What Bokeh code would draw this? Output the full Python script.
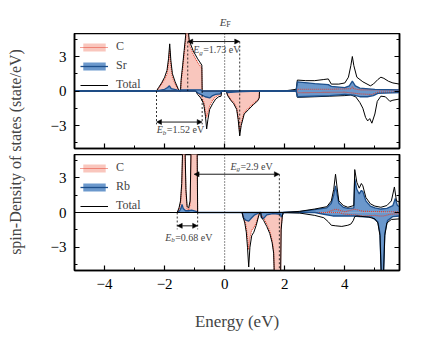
from bokeh.plotting import figure
from bokeh.layouts import row, column
from bokeh.models import (Range1d, FixedTicker, LinearAxis, Span, Label, Arrow,
                          NormalHead, Legend, LegendItem, CustomJSTickFormatter)
from bokeh.embed import file_html
from bokeh.resources import INLINE

FONT = "Liberation Serif"

# ---------------- tick definitions ----------------
x_ticks = [-4, -2, 0, 2, 4]
x_tick_labels = ["\u22124", "\u22122", "0", "2", "4"]
x_minor = [-5, -3, -1, 1, 3, 5]
y_ticks = [-3, 0, 3]
y_tick_labels = ["\u22123", "0", "3"]
y_minor = [-4.5, -1.5, 1.5, 4.5]
X_MIN, X_MAX = -5, 5.82

# ---------------- top panel (C / Sr) : (energy, DOS) ----------------
top_total_up = [(-5, 0), (-2.27, 0), (-2.2, 0.3), (-2.1, 0.7), (-2.0, 1.2), (-1.92, 1.8), (-1.87, 2.8),
                (-1.83, 4.1), (-1.79, 2.6), (-1.74, 1.5), (-1.65, 0.8), (-1.55, 0.2), (-1.5, 0), (-1.47, 0),
                (-1.45, 1.0), (-1.4, 2.2), (-1.35, 3.5), (-1.3, 4.8), (-1.27, 6.5), (-1.22, 5.5), (-1.18, 4.4),
                (-1.05, 3.5), (-0.9, 2.8), (-0.76, 2.25), (-0.75, 0), (1.95, 0), (2.2, 0.08), (2.38, 0.15),
                (2.42, 0.95), (2.7, 0.9), (3.0, 0.9), (3.3, 1.0), (3.45, 1.05), (3.55, 0.6), (3.8, 0.6),
                (4.0, 0.7), (4.12, 1.2), (4.2, 2.2), (4.25, 3.0), (4.3, 2.2), (4.4, 1.2), (4.6, 0.8),
                (4.85, 0.45), (4.95, 0.6), (5.1, 1.0), (5.2, 1.2), (5.3, 1.1), (5.45, 0.85), (5.6, 0.7),
                (5.82, 0.6)]
top_c_up = [(-5, 0), (-2.27, 0), (-2.2, 0.25), (-2.1, 0.6), (-2.0, 1.0), (-1.92, 1.5), (-1.87, 2.4),
            (-1.83, 3.6), (-1.79, 2.2), (-1.74, 1.2), (-1.65, 0.6), (-1.55, 0.15), (-1.5, 0), (-1.47, 0),
            (-1.45, 0.8), (-1.4, 1.9), (-1.35, 3.2), (-1.3, 4.4), (-1.27, 6.0), (-1.22, 5.1), (-1.18, 4.1),
            (-1.05, 3.2), (-0.9, 2.5), (-0.76, 2.0), (-0.75, 0), (2.4, 0), (2.42, 0.15), (3.5, 0.15),
            (4.2, 0.2), (4.25, 0.35), (4.3, 0.2), (4.5, 0.1), (5.82, 0.1)]
top_sr_up = [(-5, 0), (-2.27, 0), (-2.0, 0.15), (-1.9, 0.3), (-1.84, 0.45), (-1.78, 0.2), (-1.6, 0.1),
             (-1.5, 0), (-1.45, 0.1), (-0.8, 0.1), (-0.75, 0), (2.38, 0), (2.42, 0.8), (3.0, 0.65),
             (3.45, 0.55), (3.55, 0.4), (4.0, 0.3), (4.15, 0.45), (4.25, 0.85), (4.35, 0.45), (4.5, 0.25),
             (5.0, 0.15), (5.82, 0.1)]
top_total_dn = [(-5, 0), (-0.97, 0), (-0.9, -0.3), (-0.8, -0.6), (-0.7, -1.1), (-0.64, -2.2), (-0.6, -3.3),
                (-0.56, -2.5), (-0.5, -1.6), (-0.4, -1.1), (-0.3, -0.7), (-0.2, -0.5), (-0.12, -0.45),
                (-0.1, 0), (0.05, 0), (0.1, -0.4), (0.2, -0.8), (0.3, -1.1), (0.4, -1.6), (0.45, -2.5),
                (0.5, -3.9), (0.55, -3.0), (0.65, -2.0), (0.8, -1.6), (0.95, -1.2), (1.1, -0.85),
                (1.15, -0.6), (1.16, 0), (2.38, 0), (2.42, -0.55), (3.0, -0.5), (3.5, -0.45), (4.0, -0.4),
                (4.2, -0.35), (4.36, -0.5), (4.5, -1.0), (4.6, -1.5), (4.69, -2.3), (4.76, -2.6),
                (4.83, -2.4), (4.9, -2.8), (5.0, -2.0), (5.08, -0.9), (5.2, -0.45), (5.35, -0.5),
                (5.5, -0.9), (5.6, -0.8), (5.82, -0.7)]
top_c_dn = [(-5, 0), (-0.97, 0), (-0.9, -0.2), (-0.8, -0.4), (-0.7, -0.9), (-0.64, -1.8), (-0.6, -2.3),
            (-0.56, -1.9), (-0.5, -1.3), (-0.4, -0.8), (-0.3, -0.5), (-0.2, -0.35), (-0.12, -0.3),
            (-0.1, 0), (0.05, 0), (0.1, -0.35), (0.2, -0.7), (0.3, -1.0), (0.4, -1.5), (0.45, -2.3),
            (0.5, -3.6), (0.55, -2.8), (0.65, -1.85), (0.8, -1.5), (0.95, -1.1), (1.1, -0.8),
            (1.15, -0.55), (1.16, 0), (2.4, 0), (2.42, -0.15), (4.0, -0.1), (4.5, -0.25), (4.9, -0.3),
            (5.1, -0.1), (5.82, -0.1)]
top_sr_dn = [(-5, 0), (-0.97, 0), (-0.9, -0.15), (-0.8, -0.3), (-0.65, -0.5), (-0.5, -0.6), (-0.4, -0.4),
             (-0.3, -0.3), (-0.15, -0.25), (-0.1, 0), (0.05, 0), (0.1, -0.15), (0.3, -0.1), (0.6, -0.05),
             (1.16, 0), (2.38, 0), (2.42, -0.5), (3.5, -0.4), (4.0, -0.3), (4.3, -0.35), (4.5, -0.5),
             (4.75, -0.5), (4.95, -0.4), (5.1, -0.2), (5.82, -0.15)]

# ---------------- bottom panel (C / Rb) ----------------
bot_total_up = [(-5, 0), (-1.58, 0), (-1.52, 0.4), (-1.47, 1.0), (-1.43, 2.5), (-1.4, 5.5), (-1.36, 8.0),
                (-1.32, 5.5), (-1.29, 2.0), (-1.25, 0.5), (-1.2, 0.4), (-1.15, 1.0), (-1.12, 5.5),
                (-1.08, 8.0), (-1.0, 7.0), (-0.92, 6.5), (-0.9, 0), (1.95, 0), (2.5, 0.1), (3.0, 0.3),
                (3.4, 0.5), (3.55, 1.0), (3.63, 2.0), (3.69, 3.3), (3.74, 2.2), (3.8, 1.0), (3.95, 0.6),
                (4.1, 0.45), (4.3, 0.6), (4.33, 3.7), (4.4, 2.6), (4.48, 2.1), (4.55, 2.5), (4.6, 2.3),
                (4.7, 1.3), (4.85, 0.75), (5.0, 0.55), (5.2, 0.45), (5.4, 0.6), (5.55, 1.0), (5.65, 2.2),
                (5.72, 1.0), (5.82, 0.9)]
bot_rb_up = [(-1.58, 0), (-1.5, 0.15), (-1.45, 0.4), (-1.42, 0.7), (-1.38, 0.35), (-1.3, 0.15), (-1.2, 0.15),
             (-1.1, 0.2), (-0.95, 0.1), (-0.9, 0), (1.95, 0), (2.5, 0.08), (3.0, 0.25), (3.4, 0.4),
             (3.55, 0.8), (3.63, 1.5), (3.69, 2.3), (3.74, 1.6), (3.8, 0.8), (3.95, 0.45), (4.1, 0.35),
             (4.3, 0.4), (4.33, 2.9), (4.4, 2.0), (4.48, 1.6), (4.55, 1.9), (4.6, 1.8), (4.7, 1.0),
             (4.85, 0.55), (5.0, 0.4), (5.2, 0.3), (5.4, 0.35), (5.6, 0.6), (5.68, 1.2), (5.75, 0.6),
             (5.82, 0.5)]
bot_c_up = [(-1.58, 0), (-1.52, 0.3), (-1.47, 0.8), (-1.43, 2.2), (-1.4, 5.2), (-1.36, 7.5), (-1.32, 5.2),
            (-1.29, 1.7), (-1.25, 0.3), (-1.2, 0.2), (-1.15, 0.7), (-1.12, 5.2), (-1.08, 7.8), (-1.0, 6.8),
            (-0.92, 6.3), (-0.9, 0), (3.4, 0), (3.69, 0.3), (4.0, 0.05), (4.33, 0.3), (4.6, 0.1),
            (5.82, 0.05)]
bot_total_dn = [(-5, 0), (0.58, 0), (0.62, -0.45), (0.67, -0.9), (0.72, -1.7), (0.76, -3.0), (0.8, -4.7),
                (0.84, -3.0), (0.9, -2.0), (0.97, -1.7), (1.05, -1.1), (1.13, -0.3), (1.17, 0), (1.2, 0),
                (1.22, -0.4), (1.3, -0.7), (1.4, -1.2), (1.5, -1.8), (1.58, -2.6), (1.63, -3.5),
                (1.66, -6.0), (1.86, -6.0), (1.88, -1.5), (1.92, -0.3), (1.95, 0), (2.5, -0.05),
                (3.0, -0.25), (3.3, -0.45), (3.45, -0.8), (3.55, -1.1), (3.7, -1.15), (3.9, -1.2),
                (4.1, -1.1), (4.2, -1.0), (4.28, -0.7), (4.33, -0.35), (4.4, -0.3), (4.8, -0.4),
                (5.0, -0.55), (5.1, -0.9), (5.17, -2.0), (5.22, -6.0), (5.28, -6.0), (5.33, -2.0),
                (5.4, -0.9), (5.55, -0.6), (5.82, -0.55)]
bot_rb_dn = [(0.58, 0), (0.62, -0.45), (0.7, -0.65), (0.8, -0.75), (0.9, -0.45), (1.0, -0.2), (1.17, 0),
             (1.2, 0), (1.22, -0.45), (1.3, -0.5), (1.4, -0.2), (1.6, -0.1), (1.86, -0.15), (1.88, -0.4),
             (1.92, -0.25), (1.95, 0), (3.0, 0), (3.3, -0.15), (3.6, -0.3), (4.0, -0.3), (4.3, -0.3),
             (4.5, -0.35), (4.9, -0.4), (5.1, -0.8), (5.17, -1.8), (5.22, -6.0), (5.28, -6.0),
             (5.33, -1.8), (5.42, -0.7), (5.6, -0.35), (5.82, -0.3)]
bot_c_dn = [(0.58, 0), (0.62, -0.3), (0.67, -0.7), (0.72, -1.3), (0.76, -2.2), (0.8, -3.2), (0.84, -2.2),
            (0.9, -1.5), (0.97, -1.3), (1.05, -0.9), (1.13, -0.25), (1.17, 0), (1.2, 0), (1.22, -0.25),
            (1.3, -0.5), (1.4, -1.0), (1.5, -1.6), (1.58, -2.4), (1.63, -3.3), (1.66, -6.0), (1.86, -6.0),
            (1.88, -1.3), (1.92, -0.2), (1.95, 0), (3.8, 0), (4.0, -0.15), (4.35, -0.2), (4.6, -0.3),
            (5.0, -0.25), (5.15, -0.3), (5.3, -0.3), (5.5, -0.15), (5.82, -0.1)]

# ---------------- gap annotations ----------------
top_gaps = [(-1.23, 0.50, 4.3, "g", "=1.73 eV", -1.05, 3.6),
            (-2.27, -0.75, -2.7, "b", "=1.52 eV", -2.26, -3.35)]
bot_gaps = [(-1.02, 1.82, 3.3, "g", "=2.9 eV", 0.19, 4.0),
            (-1.58, -0.90, -1.15, "b", "=0.68 eV", -1.98, -2.15)]
top_guides = [(-1.23, 4.3, 0), (0.50, 4.3, -3.9), (-2.27, 0, -2.9), (-0.75, 0, -2.9)]
bot_guides = [(-1.58, 0, -1.45), (-0.90, 0, -1.45), (1.82, 3.3, -5)]
fermi_level = 0.0

PINK = "#F9C6BD"
RED = "#E2412E"
BLUE_FILL = "#6B98CC"
NAVY = "#1D4F8C"

LEFT_B, RIGHT_B, FRAME_W = 43, 24, 325
LAB_W = 31
TOP_STRIP = 33


def xy(pairs):
    xs, ys = zip(*pairs)
    return list(xs), list(ys)


def style_axes(p, show_xlabels):
    p.xgrid.grid_line_color = None
    p.ygrid.grid_line_color = None
    p.outline_line_color = "black"
    p.outline_line_width = 1.5
    p.background_fill_color = "white"
    xt = FixedTicker(ticks=x_ticks, minor_ticks=x_minor)
    yt = FixedTicker(ticks=y_ticks, minor_ticks=y_minor)
    for ax in p.xaxis:
        ax.ticker = xt
    for ax in p.yaxis:
        ax.ticker = yt
    common = dict(axis_line_width=1.5, major_tick_in=5, major_tick_out=0, minor_tick_in=3,
                  minor_tick_out=0, major_tick_line_width=1.2, minor_tick_line_width=1.0)
    for ax in list(p.xaxis) + list(p.yaxis):
        for k, v in common.items():
            setattr(ax, k, v)
        ax.major_label_text_font = FONT
        ax.major_label_text_font_size = "15px"
        ax.major_label_text_color = "black"
        ax.axis_label_text_font = FONT
        ax.axis_label_text_font_style = "normal"
    p.yaxis.major_label_overrides = dict(zip(y_ticks, y_tick_labels))
    p.yaxis.major_label_standoff = 8
    if show_xlabels:
        p.xaxis.major_label_overrides = dict(zip(x_ticks, x_tick_labels))
        p.xaxis.major_label_standoff = 8
        p.xaxis.axis_label = "Energy (eV)"
        p.xaxis.axis_label_text_font_size = "17px"
        p.xaxis.axis_label_standoff = 20
    else:
        p.xaxis.formatter = CustomJSTickFormatter(code="return ''")
        p.xaxis.major_label_text_font_size = "0px"
        p.xaxis.major_label_standoff = 0
    rax = LinearAxis(ticker=yt, formatter=CustomJSTickFormatter(code="return ''"),
                     major_label_text_font_size="0px", major_label_standoff=0, **common)
    p.add_layout(rax, "right")


def panel(fh, top_b, bot_b, show_xlabels, total_up, total_dn, c_up, c_dn, s_up, s_dn, sname,
          gaps, guides, total_below_element):
    p = figure(frame_width=FRAME_W, frame_height=fh, x_range=Range1d(X_MIN, X_MAX), y_range=Range1d(-5, 5),
               output_backend="svg", toolbar_location=None, min_border_left=LEFT_B,
               min_border_right=RIGHT_B, min_border_top=top_b, min_border_bottom=bot_b)
    style_axes(p, show_xlabels)

    x, y = xy(c_up)
    c_area = p.varea(x=x, y1=0, y2=y, fill_color=PINK)
    xc2, yc2 = xy(c_dn)
    p.varea(x=xc2, y1=0, y2=yc2, fill_color=PINK)

    xs1, ys1 = xy(s_up)
    s_area = p.varea(x=xs1, y1=0, y2=ys1, fill_color=BLUE_FILL)
    xs2, ys2 = xy(s_dn)
    p.varea(x=xs2, y1=0, y2=ys2, fill_color=BLUE_FILL)

    c_line = p.line(x, y, line_color=RED, line_dash="1 1", line_width=1.1)
    p.line(xc2, yc2, line_color=RED, line_dash="1 1", line_width=1.1)

    def draw_total():
        xx, yy = xy(total_up)
        tl = p.line(xx, yy, line_color="black", line_width=1.0)
        xx, yy = xy(total_dn)
        p.line(xx, yy, line_color="black", line_width=1.0)
        return tl

    def draw_s():
        sl = p.line(xs1, ys1, line_color=NAVY, line_width=1.3)
        p.line(xs2, ys2, line_color=NAVY, line_width=1.3)
        return sl

    if total_below_element:
        t_line = draw_total()
        s_line = draw_s()
    else:
        s_line = draw_s()
        t_line = draw_total()

    p.add_layout(Span(location=fermi_level, dimension="height", line_color="black", line_dash="1 2",
                      line_width=0.9))

    for gx, gy0, gy1 in guides:
        p.segment(x0=[gx], y0=[gy0], x1=[gx], y1=[gy1], line_color="black", line_dash="2 2",
                  line_width=0.8)
    for xs, xe, ya, sub, rest, tx, ty in gaps:
        p.add_layout(Arrow(start=NormalHead(size=5, fill_color="black", line_color="black", line_width=0.5),
                           end=NormalHead(size=5, fill_color="black", line_color="black", line_width=0.5),
                           x_start=xs, y_start=ya, x_end=xe, y_end=ya, line_width=0.9))
        p.add_layout(Label(x=tx, y=ty, text="E", text_font=FONT, text_font_style="italic",
                           text_font_size="10px", text_baseline="middle"))
        p.add_layout(Label(x=tx, y=ty, x_offset=6, y_offset=-3, text=sub, text_font=FONT,
                           text_font_style="italic", text_font_size="7px", text_baseline="middle"))
        p.add_layout(Label(x=tx, y=ty, x_offset=10, text=rest, text_font=FONT,
                           text_font_size="10px", text_baseline="middle"))

    legend = Legend(items=[LegendItem(label="C", renderers=[c_area, c_line]),
                           LegendItem(label=sname, renderers=[s_area, s_line]),
                           LegendItem(label="Total", renderers=[t_line])],
                    location="top_left", margin=6, padding=0, spacing=4, glyph_width=28,
                    glyph_height=10, label_height=10, label_standoff=8, label_text_font=FONT,
                    label_text_font_size="12px", border_line_color=None, background_fill_alpha=0)
    p.add_layout(legend)
    return p


# strip above the top panel holding the E_F label
strip = figure(frame_width=FRAME_W, frame_height=TOP_STRIP, x_range=Range1d(X_MIN, X_MAX),
               y_range=Range1d(0, TOP_STRIP), output_backend="svg", toolbar_location=None,
               min_border_left=LEFT_B, min_border_right=RIGHT_B, min_border_top=0, min_border_bottom=0,
               x_axis_type=None, y_axis_type=None, outline_line_color=None)
strip.xgrid.grid_line_color = None
strip.ygrid.grid_line_color = None
strip.add_layout(Label(x=fermi_level, y=12, x_offset=-5, text="E", text_font=FONT, text_font_style="italic",
                       text_font_size="11px", text_baseline="middle"))
strip.add_layout(Label(x=fermi_level, y=9.5, x_offset=1.5, text="F", text_font=FONT,
                       text_font_size="8px", text_baseline="middle"))

p1 = panel(115, 0, 6, False, top_total_up, top_total_dn, top_c_up, top_c_dn, top_sr_up, top_sr_dn,
           "Sr", top_gaps, top_guides, True)
p2 = panel(116, 0, 64, True, bot_total_up, bot_total_dn, bot_c_up, bot_c_dn, bot_rb_up, bot_rb_dn,
           "Rb", bot_gaps, bot_guides, False)

H = TOP_STRIP + 121 + 116 + 66
lab = figure(frame_width=LAB_W, frame_height=H, x_range=Range1d(0, LAB_W), y_range=Range1d(0, H),
             output_backend="svg", toolbar_location=None, min_border=0, x_axis_type=None,
             y_axis_type=None, outline_line_color=None)
lab.xgrid.grid_line_color = None
lab.ygrid.grid_line_color = None
lab.add_layout(Label(x=15, y=H - 151.5, text="spin-Density of states (state/eV)", angle=90,
                     angle_units="deg", text_align="center", text_baseline="middle",
                     text_font=FONT, text_font_size="16px"))

layout = row(lab, column(strip, p1, p2))
open("out.html", "w").write(file_html(layout, INLINE))
